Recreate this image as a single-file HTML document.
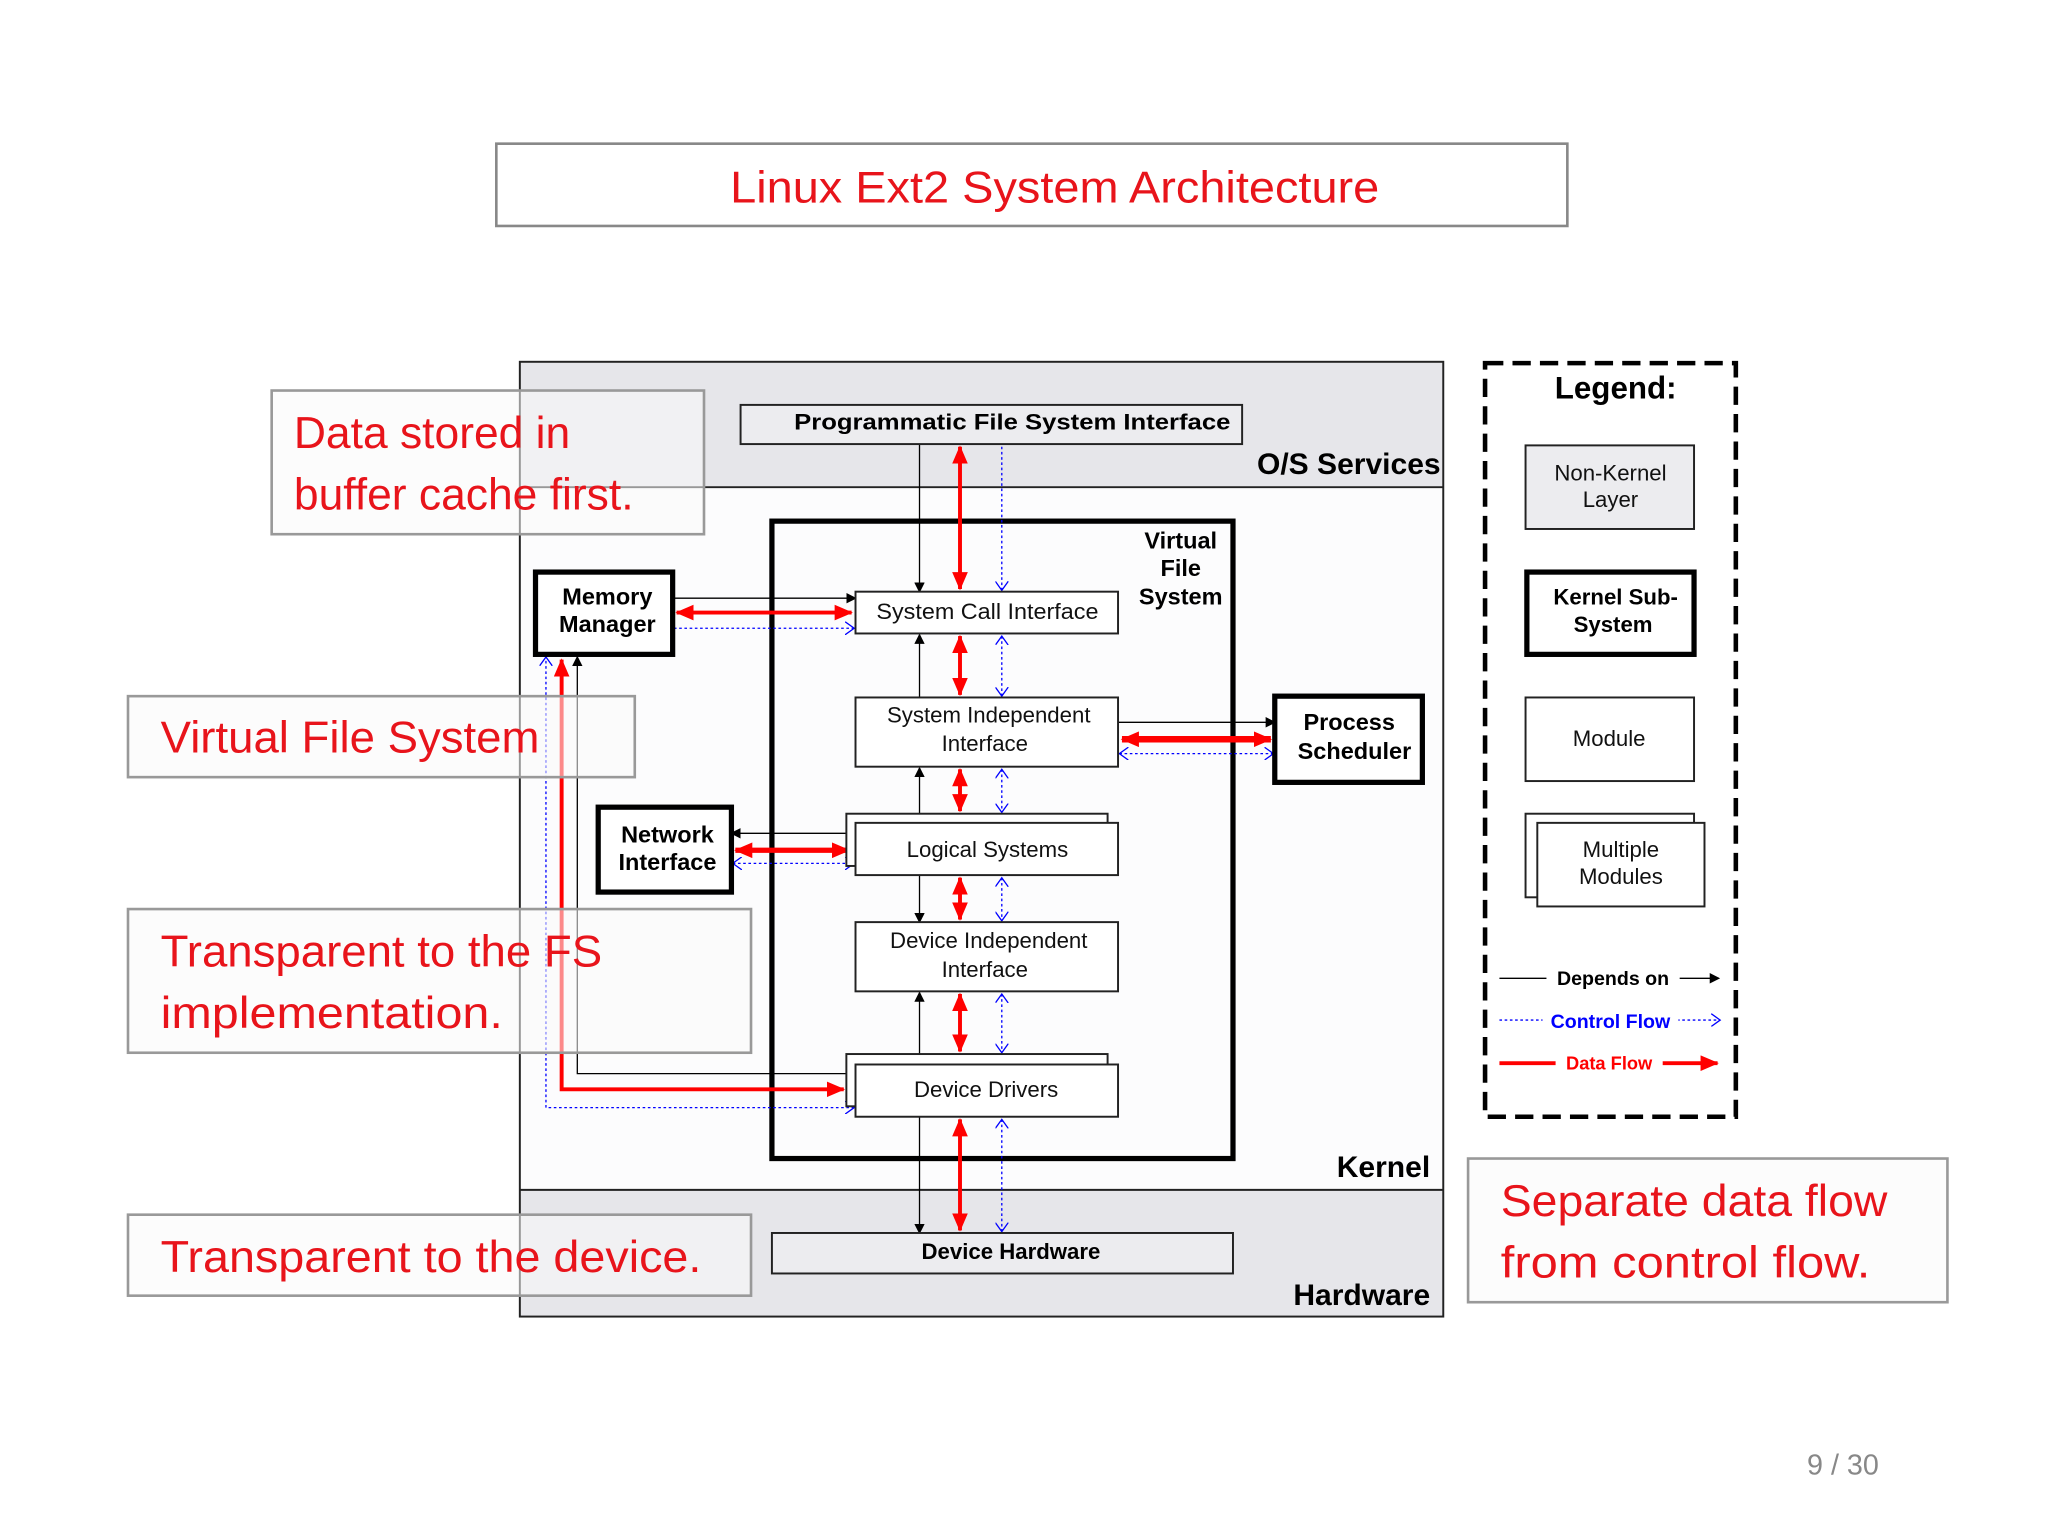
<!DOCTYPE html>
<html><head><meta charset="utf-8"><style>
html,body{margin:0;padding:0;background:#fff}
svg{display:block}
text{font-family:"Liberation Sans",Arial,sans-serif}
.r{fill:#e8141b;font-size:34px}
.b{font-weight:bold;fill:#000}
.n{fill:#111;font-size:17px}
</style></head><body>
<svg width="2048" height="1536" viewBox="0 0 1568 1176" xmlns="http://www.w3.org/2000/svg">
<defs>
<marker id="ak" markerWidth="8" markerHeight="8" refX="7" refY="4" orient="auto" markerUnits="userSpaceOnUse"><path d="M0,0 L8,4 L0,8 z" fill="#000"/></marker>
<marker id="ar" markerWidth="14" markerHeight="12" refX="13" refY="6" orient="auto-start-reverse" markerUnits="userSpaceOnUse"><path d="M0,0 L14,6 L0,12 z" fill="#f00"/></marker>
<marker id="ab" markerWidth="8" markerHeight="10" refX="7" refY="5" orient="auto-start-reverse" markerUnits="userSpaceOnUse"><path d="M0,0 L7,5 L0,10" fill="none" stroke="#00f" stroke-width="1"/></marker>
</defs>
<rect width="1568" height="1176" fill="#fff"/>
<!-- title -->
<rect x="380" y="110" width="820" height="63" fill="#fff" stroke="#888" stroke-width="2"/>
<text class="r" x="559" y="155" textLength="497" lengthAdjust="spacingAndGlyphs">Linux Ext2  System Architecture</text>
<!-- diagram bands -->
<rect x="398" y="277" width="707" height="96" fill="#e6e6ea"/>
<rect x="398" y="373" width="707" height="538" fill="#fcfcfd"/>
<rect x="398" y="911" width="707" height="97" fill="#e6e6ea"/>
<rect x="398" y="277" width="707" height="731" fill="none" stroke="#222" stroke-width="1.5"/>
<line x1="398" y1="373" x2="1105" y2="373" stroke="#222" stroke-width="1.5"/>
<line x1="398" y1="911" x2="1105" y2="911" stroke="#222" stroke-width="1.5"/>
<text class="b" x="1103" y="363" font-size="23" text-anchor="end">O/S Services</text>
<text class="b" x="1095" y="901" font-size="23" text-anchor="end">Kernel</text>
<text class="b" x="1095" y="999" font-size="23" text-anchor="end">Hardware</text>
<!-- VFS -->
<rect x="591" y="399" width="353" height="488" fill="none" stroke="#000" stroke-width="4"/>
<text class="b" font-size="18" text-anchor="middle"><tspan x="904" y="420">Virtual</tspan><tspan x="904" y="441">File</tspan><tspan x="904" y="463">System</tspan></text>
<!-- vertical connectors -->
<g>
<line x1="704" y1="340" x2="704" y2="453" stroke="#000" marker-end="url(#ak)"/>
<line x1="735" y1="342" x2="735" y2="451" stroke="#f00" stroke-width="3" marker-start="url(#ar)" marker-end="url(#ar)"/>
<line x1="767" y1="342" x2="767" y2="452" stroke="#00f" stroke-dasharray="2,2" marker-end="url(#ab)"/>
<line x1="704" y1="534" x2="704" y2="486" stroke="#000" marker-end="url(#ak)"/>
<line x1="735" y1="487" x2="735" y2="532" stroke="#f00" stroke-width="3" marker-start="url(#ar)" marker-end="url(#ar)"/>
<line x1="767" y1="487" x2="767" y2="533" stroke="#00f" stroke-dasharray="2,2" marker-start="url(#ab)" marker-end="url(#ab)"/>
<line x1="704" y1="623" x2="704" y2="588" stroke="#000" marker-end="url(#ak)"/>
<line x1="735" y1="589" x2="735" y2="621" stroke="#f00" stroke-width="3" marker-start="url(#ar)" marker-end="url(#ar)"/>
<line x1="767" y1="589" x2="767" y2="622" stroke="#00f" stroke-dasharray="2,2" marker-start="url(#ab)" marker-end="url(#ab)"/>
<line x1="704" y1="670" x2="704" y2="706" stroke="#000" marker-end="url(#ak)"/>
<line x1="735" y1="672" x2="735" y2="704" stroke="#f00" stroke-width="3" marker-start="url(#ar)" marker-end="url(#ar)"/>
<line x1="767" y1="672" x2="767" y2="705" stroke="#00f" stroke-dasharray="2,2" marker-start="url(#ab)" marker-end="url(#ab)"/>
<line x1="704" y1="807" x2="704" y2="760" stroke="#000" marker-end="url(#ak)"/>
<line x1="735" y1="761" x2="735" y2="805" stroke="#f00" stroke-width="3" marker-start="url(#ar)" marker-end="url(#ar)"/>
<line x1="767" y1="761" x2="767" y2="806" stroke="#00f" stroke-dasharray="2,2" marker-start="url(#ab)" marker-end="url(#ab)"/>
<line x1="704" y1="855" x2="704" y2="944" stroke="#000" marker-end="url(#ak)"/>
<line x1="735" y1="857" x2="735" y2="942" stroke="#f00" stroke-width="3" marker-start="url(#ar)" marker-end="url(#ar)"/>
<line x1="767" y1="857" x2="767" y2="943" stroke="#00f" stroke-dasharray="2,2" marker-start="url(#ab)" marker-end="url(#ab)"/>
</g>
<!-- horizontal connectors -->
<line x1="515" y1="458" x2="655" y2="458" stroke="#000" marker-end="url(#ak)"/>
<line x1="518" y1="469" x2="652" y2="469" stroke="#f00" stroke-width="3" marker-start="url(#ar)" marker-end="url(#ar)"/>
<line x1="516" y1="481" x2="654" y2="481" stroke="#00f" stroke-dasharray="2,2" marker-end="url(#ab)"/>
<line x1="856" y1="553" x2="976" y2="553" stroke="#000" marker-end="url(#ak)"/>
<line x1="859" y1="566" x2="973" y2="566" stroke="#f00" stroke-width="5" marker-start="url(#ar)" marker-end="url(#ar)"/>
<line x1="857" y1="577" x2="975" y2="577" stroke="#00f" stroke-dasharray="2,2" marker-start="url(#ab)" marker-end="url(#ab)"/>
<line x1="648" y1="638" x2="560" y2="638" stroke="#000" marker-end="url(#ak)"/>
<line x1="563" y1="651" x2="650" y2="651" stroke="#f00" stroke-width="4" marker-start="url(#ar)" marker-end="url(#ar)"/>
<line x1="561" y1="661" x2="654" y2="661" stroke="#00f" stroke-dasharray="2,2" marker-start="url(#ab)" marker-end="url(#ab)"/>
<polyline points="648,822 442,822 442,503" fill="none" stroke="#000" marker-end="url(#ak)"/>
<polyline points="646,834 430,834 430,505" fill="none" stroke="#f00" stroke-width="3" marker-start="url(#ar)" marker-end="url(#ar)"/>
<polyline points="654,848 418,848 418,503" fill="none" stroke="#00f" stroke-dasharray="2,2" marker-start="url(#ab)" marker-end="url(#ab)"/>
<!-- boxes -->
<rect x="567" y="310" width="384" height="30" fill="#ececef" stroke="#222" stroke-width="1.5"/>
<text class="b" x="775" y="329" font-size="17" text-anchor="middle" textLength="334" lengthAdjust="spacingAndGlyphs">Programmatic File System Interface</text>
<rect x="410" y="438" width="105" height="63" fill="#fff" stroke="#000" stroke-width="4"/>
<text class="b" font-size="18" text-anchor="middle"><tspan x="465" y="463">Memory</tspan><tspan x="465" y="484">Manager</tspan></text>
<rect x="655" y="453" width="201" height="32" fill="#fff" stroke="#222" stroke-width="1.5"/>
<text class="n" x="756" y="474" text-anchor="middle" textLength="170" lengthAdjust="spacingAndGlyphs">System Call Interface</text>
<rect x="655" y="534" width="201" height="53" fill="#fff" stroke="#222" stroke-width="1.5"/>
<text class="n" text-anchor="middle"><tspan x="757" y="553">System Independent</tspan><tspan x="754" y="575">Interface</tspan></text>
<rect x="976" y="533" width="113" height="66" fill="#fff" stroke="#000" stroke-width="4"/>
<text class="b" font-size="18" text-anchor="middle"><tspan x="1033" y="559">Process</tspan><tspan x="1037" y="581">Scheduler</tspan></text>
<rect x="648" y="623" width="200" height="40" fill="#fff" stroke="#222" stroke-width="1.5"/>
<rect x="655" y="630" width="201" height="40" fill="#fff" stroke="#222" stroke-width="1.5"/>
<text class="n" x="756" y="656" text-anchor="middle">Logical Systems</text>
<rect x="458" y="618" width="102" height="65" fill="#fff" stroke="#000" stroke-width="4"/>
<text class="b" font-size="18" text-anchor="middle"><tspan x="511" y="645">Network</tspan><tspan x="511" y="666">Interface</tspan></text>
<rect x="655" y="706" width="201" height="53" fill="#fff" stroke="#222" stroke-width="1.5"/>
<text class="n" text-anchor="middle"><tspan x="757" y="726">Device Independent</tspan><tspan x="754" y="748">Interface</tspan></text>
<rect x="648" y="807" width="200" height="40" fill="#fff" stroke="#222" stroke-width="1.5"/>
<rect x="655" y="815" width="201" height="40" fill="#fff" stroke="#222" stroke-width="1.5"/>
<text class="n" x="755" y="840" text-anchor="middle">Device Drivers</text>
<rect x="591" y="944" width="353" height="31" fill="#ececef" stroke="#222" stroke-width="1.5"/>
<text class="b" x="774" y="964" font-size="17" text-anchor="middle">Device Hardware</text>
<!-- legend -->
<rect x="1137" y="278" width="192" height="577" fill="#fff" stroke="#000" stroke-width="3.5" stroke-dasharray="14,7"/>
<text class="b" x="1237" y="305" font-size="24" text-anchor="middle">Legend:</text>
<rect x="1168" y="341" width="129" height="64" fill="#ececef" stroke="#222" stroke-width="1.5"/>
<text class="n" font-size="16" text-anchor="middle"><tspan x="1233" y="368">Non-Kernel</tspan><tspan x="1233" y="388">Layer</tspan></text>
<rect x="1169" y="438" width="128" height="63" fill="#fff" stroke="#000" stroke-width="4"/>
<text class="b" font-size="17" text-anchor="middle"><tspan x="1237" y="463">Kernel Sub-</tspan><tspan x="1235" y="484">System</tspan></text>
<rect x="1168" y="534" width="129" height="64" fill="#fff" stroke="#222" stroke-width="1.5"/>
<text class="n" font-size="16" x="1232" y="571" text-anchor="middle">Module</text>
<rect x="1168" y="623" width="129" height="64" fill="#fff" stroke="#222" stroke-width="1.5"/>
<rect x="1177" y="630" width="128" height="64" fill="#fff" stroke="#222" stroke-width="1.5"/>
<text class="n" font-size="16" text-anchor="middle"><tspan x="1241" y="656">Multiple</tspan><tspan x="1241" y="677">Modules</tspan></text>
<line x1="1148" y1="749" x2="1316" y2="749" stroke="#000" marker-end="url(#ak)"/>
<rect x="1184" y="739" width="102" height="18" fill="#fff"/>
<text class="b" x="1235" y="754" font-size="15" text-anchor="middle">Depends on</text>
<line x1="1148" y1="781" x2="1317" y2="781" stroke="#00f" stroke-dasharray="2,2" marker-end="url(#ab)"/>
<rect x="1181" y="771" width="104" height="18" fill="#fff"/>
<text x="1233" y="787" font-size="15" font-weight="bold" fill="#00f" text-anchor="middle">Control Flow</text>
<line x1="1148" y1="814" x2="1315" y2="814" stroke="#f00" stroke-width="3" marker-end="url(#ar)"/>
<rect x="1191" y="805" width="82" height="17" fill="#fff"/>
<text x="1232" y="819" font-size="14" font-weight="bold" fill="#f00" text-anchor="middle">Data Flow</text>
<!-- annotations -->
<g fill="rgba(250,250,250,0.55)" stroke="#999" stroke-width="2">
<rect x="208" y="299" width="331" height="110"/>
<rect x="98" y="533" width="388" height="62"/>
<rect x="98" y="696" width="477" height="110"/>
<rect x="98" y="930" width="477" height="62"/>
<rect x="1124" y="887" width="367" height="110"/>
</g>
<text class="r"><tspan x="225" y="343">Data stored in</tspan><tspan x="225" y="390">buffer cache first.</tspan></text>
<text class="r" x="123" y="576" textLength="290" lengthAdjust="spacingAndGlyphs">Virtual File System</text>
<text class="r"><tspan x="123" y="740" textLength="338" lengthAdjust="spacingAndGlyphs">Transparent to the FS</tspan><tspan x="123" y="787" textLength="262" lengthAdjust="spacingAndGlyphs">implementation.</tspan></text>
<text class="r" x="123" y="974" textLength="414" lengthAdjust="spacingAndGlyphs">Transparent to the device.</text>
<text class="r"><tspan x="1149" y="931" textLength="296" lengthAdjust="spacingAndGlyphs">Separate data flow</tspan><tspan x="1149" y="978" textLength="283" lengthAdjust="spacingAndGlyphs">from control flow.</tspan></text>
<text x="1411" y="1129" font-size="22" fill="#888" text-anchor="middle">9 / 30</text>
</svg>
</body></html>
